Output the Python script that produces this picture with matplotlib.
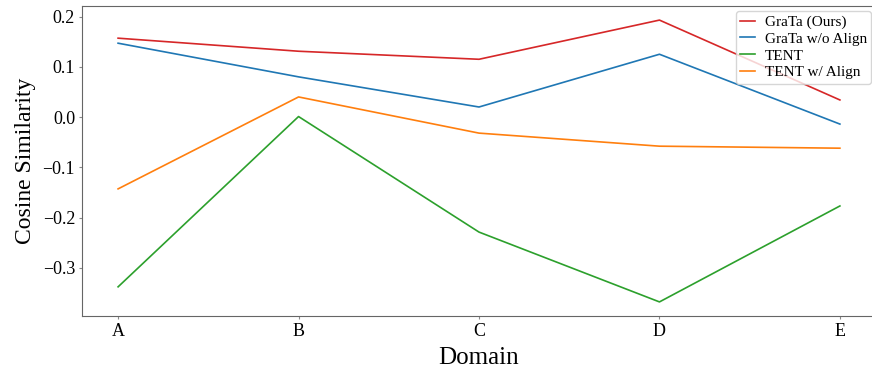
import numpy as np
import matplotlib
matplotlib.use('Agg')
import matplotlib.pyplot as plt

plt.rcParams['font.family'] = ['Liberation Serif', 'DejaVu Serif']

domains = ['A', 'B', 'C', 'D', 'E']
grata = [0.157, 0.131, 0.115, 0.193, 0.034]
grata_no_align = [0.147, 0.080, 0.020, 0.125, -0.014]
tent = [-0.338, 0.001, -0.229, -0.368, -0.177]
tent_align = [-0.143, 0.040, -0.032, -0.058, -0.062]

fig = plt.figure(figsize=(8.72, 3.71), dpi=100)
# right edge of the axes sits just past the figure edge, like the reference
ax = fig.add_axes([82 / 872, 1 - 316 / 371, 794 / 872, 310 / 371])

x = np.arange(len(domains))
ax.plot(x, grata, color='tab:red', lw=1.2, label='GraTa (Ours)')
ax.plot(x, grata_no_align, color='tab:blue', lw=1.2, label='GraTa w/o Align')
ax.plot(x, tent, color='tab:green', lw=1.2, label='TENT')
ax.plot(x, tent_align, color='tab:orange', lw=1.2, label='TENT w/ Align')

ax.set_xticks(x)
ax.set_xticklabels(domains)
ax.set_yticks([-0.3, -0.2, -0.1, 0.0, 0.1, 0.2])
ax.tick_params(labelsize=13, length=2.5, pad=2.5, color='#888888')
ax.set_xlabel('Domain', fontsize=18, labelpad=5)
ax.set_ylabel('Cosine Similarity', fontsize=17, labelpad=5)
for s in ax.spines.values():
    s.set_color('#666666')

ax.legend(loc='upper right', fontsize=11, handlelength=1.0, handletextpad=0.6,
          labelspacing=0.2, borderpad=0.3, borderaxespad=0.3)

fig.savefig('out.png', dpi=100)
